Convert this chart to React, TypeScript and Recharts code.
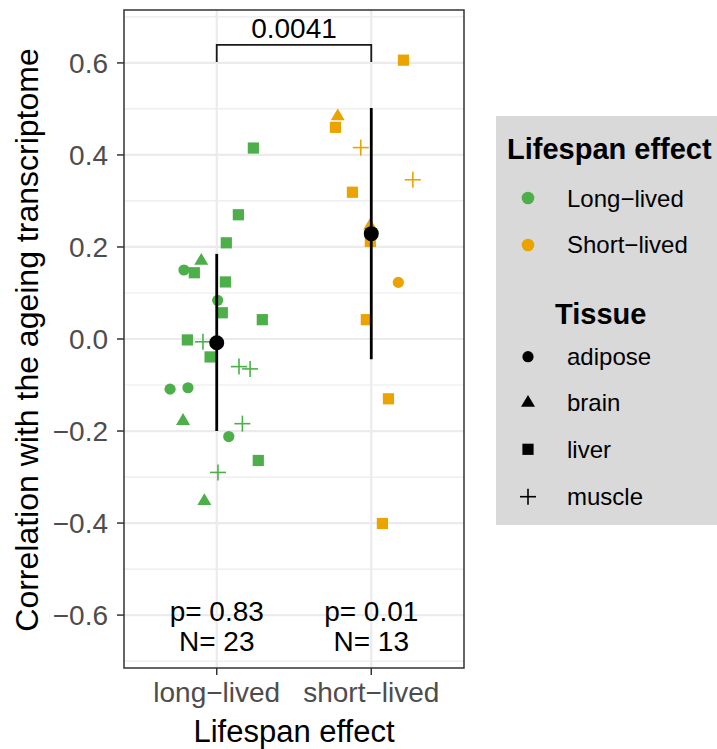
import React from "react";
import {
  CartesianGrid,
  Customized,
  ReferenceArea,
  Scatter,
  ScatterChart,
  XAxis,
  YAxis,
} from "recharts";

const GREEN = "#4DAF4A";
const ORANGE = "#EBA300";
const FONT = "'Liberation Sans', Arial, Helvetica, sans-serif";
const MINUS = "\u2212";

const groupLabels = [`long${MINUS}lived`, `short${MINUS}lived`];
const majorY = [-0.6, -0.4, -0.2, 0, 0.2, 0.4, 0.6];
const minorY = [-0.7, -0.5, -0.3, -0.1, 0.1, 0.3, 0.5, 0.7];

// jittered [x, correlation] pairs, x = 1 long-lived, x = 2 short-lived
const longAdipose = [[0.788, 0.15], [1.006, 0.084], [0.698, -0.109], [0.814, -0.106], [1.078, -0.212]];
const longBrain = [[0.9, 0.17], [0.782, -0.178], [0.92, -0.352]];
const longLiver = [
  [1.237, 0.415], [1.14, 0.27], [1.062, 0.209], [0.855, 0.144], [1.056, 0.124],
  [1.036, 0.057], [1.295, 0.042], [0.81, -0.002], [0.957, -0.039], [1.269, -0.264],
];
const longMuscle = [[0.911, -0.006], [1.144, -0.06], [1.216, -0.065], [1.166, -0.184], [1.008, -0.29]];

const shortAdipose = [[2.175, 0.123]];
const shortBrain = [[1.783, 0.484], [1.992, 0.246]];
const shortLiver = [
  [2.208, 0.606], [1.768, 0.46], [1.878, 0.319], [1.994, 0.212], [2.0, 0.228],
  [1.968, 0.042], [2.111, -0.13], [2.072, -0.401],
];
const shortMuscle = [[1.932, 0.416], [2.269, 0.346]];

// group mean with lower / upper end of the interval
const groupMeans = [
  { x: 1, y: -0.008, lo: -0.2, hi: 0.185 },
  { x: 2, y: 0.229, lo: -0.044, hi: 0.502 },
];
const groupStats = [
  { x: 1, p: "0.83", n: "23" },
  { x: 2, p: "0.01", n: "13" },
];
const comparisonP = "0.0041";
const bracketLow = 0.602;
const bracketHigh = 0.639;

const toPoints = (rows: number[][]) => rows.map(([x, y]) => ({ x, y }));

type Kind = "circle" | "triangle" | "square" | "plus";

function Glyph({ cx, cy, kind, color }: { cx: number; cy: number; kind: Kind; color: string }) {
  if (cx == null || cy == null) return null;
  if (kind === "circle") return <circle cx={cx} cy={cy} r={5.6} fill={color} />;
  if (kind === "triangle")
    return (
      <polygon
        points={`${cx},${cy - 7.8} ${cx - 7},${cy + 4} ${cx + 7},${cy + 4}`}
        fill={color}
      />
    );
  if (kind === "square")
    return <rect x={cx - 5.6} y={cy - 5.6} width={11.2} height={11.2} fill={color} />;
  return (
    <g stroke={color} strokeWidth={1.6}>
      <line x1={cx - 8} x2={cx + 8} y1={cy} y2={cy} />
      <line x1={cx} x2={cx} y1={cy - 8} y2={cy + 8} />
    </g>
  );
}

const glyph = (kind: Kind, color: string) => (props: any) => (
  <Glyph cx={props.cx} cy={props.cy} kind={kind} color={color} />
);

const nothing = () => <g />;

const series: [number[][], Kind, string][] = [
  [longAdipose, "circle", GREEN],
  [longBrain, "triangle", GREEN],
  [longLiver, "square", GREEN],
  [longMuscle, "plus", GREEN],
  [shortAdipose, "circle", ORANGE],
  [shortBrain, "triangle", ORANGE],
  [shortLiver, "square", ORANGE],
  [shortMuscle, "plus", ORANGE],
];

function AxisTitles() {
  return (
    <g fontFamily={FONT} fill="#000">
      <text x={294} y={742} fontSize={31} textAnchor="middle">
        Lifespan effect
      </text>
      <text
        transform="translate(38,340) rotate(-90)"
        fontSize={32}
        textAnchor="middle"
      >
        Correlation with the ageing transcriptome
      </text>
    </g>
  );
}

function LegendPanel() {
  const rowY = [240.7, 286.7, 333.3, 380.7];
  const tissues: [string, Kind][] = [
    ["adipose", "circle"],
    ["brain", "triangle"],
    ["liver", "square"],
    ["muscle", "plus"],
  ];
  return (
    <svg
      width={221}
      height={409}
      style={{ position: "absolute", left: 496, top: 116 }}
      fontFamily={FONT}
    >
      <rect width={221} height={409} fill="#d9d9d9" />
      <text x={11} y={43} fontSize={29} fontWeight="bold">
        Lifespan effect
      </text>
      <circle cx={32} cy={82} r={6.3} fill={GREEN} />
      <text x={71} y={91} fontSize={24}>{`Long${MINUS}lived`}</text>
      <circle cx={32} cy={129} r={6.3} fill={ORANGE} />
      <text x={71} y={137} fontSize={24}>{`Short${MINUS}lived`}</text>
      <text x={59} y={208} fontSize={29} fontWeight="bold">
        Tissue
      </text>
      {tissues.map(([name, kind], i) => (
        <g key={name}>
          <Glyph cx={32} cy={rowY[i]} kind={kind} color="#000" />
          <text x={71} y={rowY[i] + 8.5} fontSize={24}>
            {name}
          </text>
        </g>
      ))}
    </svg>
  );
}

export default function App() {
  const bracket = [
    { x: 1, y: bracketLow },
    { x: 1, y: bracketHigh },
    { x: 2, y: bracketHigh },
    { x: 2, y: bracketLow },
  ];
  return (
    <div
      style={{
        position: "absolute",
        left: 0,
        top: 0,
        width: 717,
        height: 749,
        background: "#fff",
        fontFamily: FONT,
      }}
    >
      <ScatterChart width={717} height={749} margin={{ top: 10, right: 253, bottom: 0, left: 0 }}>
        <CartesianGrid horizontalValues={minorY} vertical={false} stroke="#ebebeb" strokeWidth={1.2} />
        <CartesianGrid
          horizontalValues={majorY}
          verticalValues={[1, 2]}
          stroke="#ebebeb"
          strokeWidth={2.2}
        />
        <XAxis
          type="number"
          dataKey="x"
          domain={[0.4, 2.6]}
          ticks={[1, 2]}
          interval={0}
          allowDataOverflow
          height={81}
          axisLine={false}
          tickSize={7}
          tickMargin={7}
          tickLine={{ stroke: "#333", strokeWidth: 1.5 }}
          tick={{ fill: "#4d4d4d", fontSize: 28, fontFamily: FONT }}
          tickFormatter={(v: number) => groupLabels[Math.round(v) - 1]}
        />
        <YAxis
          type="number"
          dataKey="y"
          domain={[-0.715, 0.715]}
          ticks={majorY}
          interval={0}
          allowDataOverflow
          width={124}
          axisLine={false}
          tickSize={7}
          tickMargin={9}
          tickLine={{ stroke: "#333", strokeWidth: 1.5 }}
          tick={{ fill: "#4d4d4d", fontSize: 28, fontFamily: FONT }}
          tickFormatter={(v: number) => v.toFixed(1).replace("-", MINUS)}
        />
        {series.map(([rows, kind, color], i) => (
          <Scatter
            key={i}
            data={toPoints(rows)}
            fill={color}
            shape={glyph(kind, color)}
            isAnimationActive={false}
          />
        ))}
        {groupMeans.map((m) => (
          <Scatter
            key={`bar${m.x}`}
            data={[
              { x: m.x, y: m.lo },
              { x: m.x, y: m.hi },
            ]}
            fill="#000"
            line={{ stroke: "#000", strokeWidth: 2.8 }}
            shape={nothing}
            isAnimationActive={false}
          />
        ))}
        <Scatter
          data={groupMeans.map((m) => ({ x: m.x, y: m.y }))}
          fill="#000"
          shape={(p: any) => <circle cx={p.cx} cy={p.cy} r={7.5} fill="#000" />}
          isAnimationActive={false}
        />
        <Scatter
          data={bracket}
          fill="#1a1a1a"
          line={{ stroke: "#1a1a1a", strokeWidth: 1.8 }}
          shape={nothing}
          isAnimationActive={false}
        />
        <Scatter
          data={[{ x: 1.5, y: 0.676 }]}
          shape={(p: any) => (
            <text x={p.cx} y={p.cy} dy="0.36em" textAnchor="middle" fontSize={28} fontFamily={FONT} fill="#000">
              {comparisonP}
            </text>
          )}
          isAnimationActive={false}
        />
        <Scatter
          data={groupStats.map((s) => ({ x: s.x, y: -0.59, p: s.p, n: s.n }))}
          shape={(p: any) => (
            <g fontSize={28} fontFamily={FONT} fill="#000" textAnchor="middle">
              <text x={p.cx} y={p.cy} dy="0.36em">{`p= ${p.payload.p}`}</text>
              <text x={p.cx} y={p.cy + 30} dy="0.36em">{`N= ${p.payload.n}`}</text>
            </g>
          )}
          isAnimationActive={false}
        />
        <ReferenceArea
          x1={0.4}
          x2={2.6}
          y1={-0.715}
          y2={0.715}
          fill="none"
          fillOpacity={0}
          stroke="#333"
          strokeWidth={1.5}
        />
        <Customized component={AxisTitles} />
      </ScatterChart>
      <LegendPanel />
    </div>
  );
}
